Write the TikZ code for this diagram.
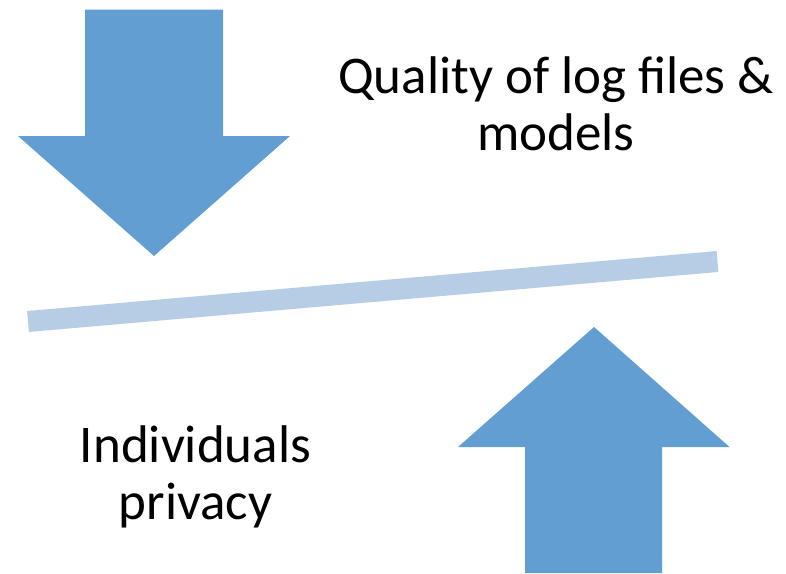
\documentclass[tikz,border=0pt]{standalone}
\usepackage{fontspec}
\setmainfont{Carlito}
\definecolor{arrowblue}{HTML}{629ED2}
\definecolor{barblue}{HTML}{B7CDE5}
\begin{document}
\begin{tikzpicture}[x=1pt,y=-1pt,
  bigarrow/.style={fill=arrowblue,draw=none},
  label/.style={font=\fontsize{53}{57}\selectfont,align=center,inner sep=0pt,anchor=base}]
\useasboundingbox (0,0) rectangle (786,573);
% down arrow
\fill[bigarrow] (85,9.5) -- (223,9.5) -- (223,136) -- (290,136) -- (154,256) -- (18,136) -- (85,136) -- cycle;
% up arrow
\fill[bigarrow] (525,573) -- (662,573) -- (662,447) -- (729.5,447) -- (594,327) -- (458,447) -- (525,447) -- cycle;
% bar
\coordinate (barL) at (28,321.5);
\coordinate (barR) at (717.5,261.5);
\draw[barblue,line width=21pt] (barL) -- (barR);
% texts (base anchor = baseline of last line)
\node[label] (quality) at (556,150) {Quality of log files \&\\models};
\node[label] (indiv) at (195.5,519) {Individuals\\privacy};
\end{tikzpicture}
\end{document}
